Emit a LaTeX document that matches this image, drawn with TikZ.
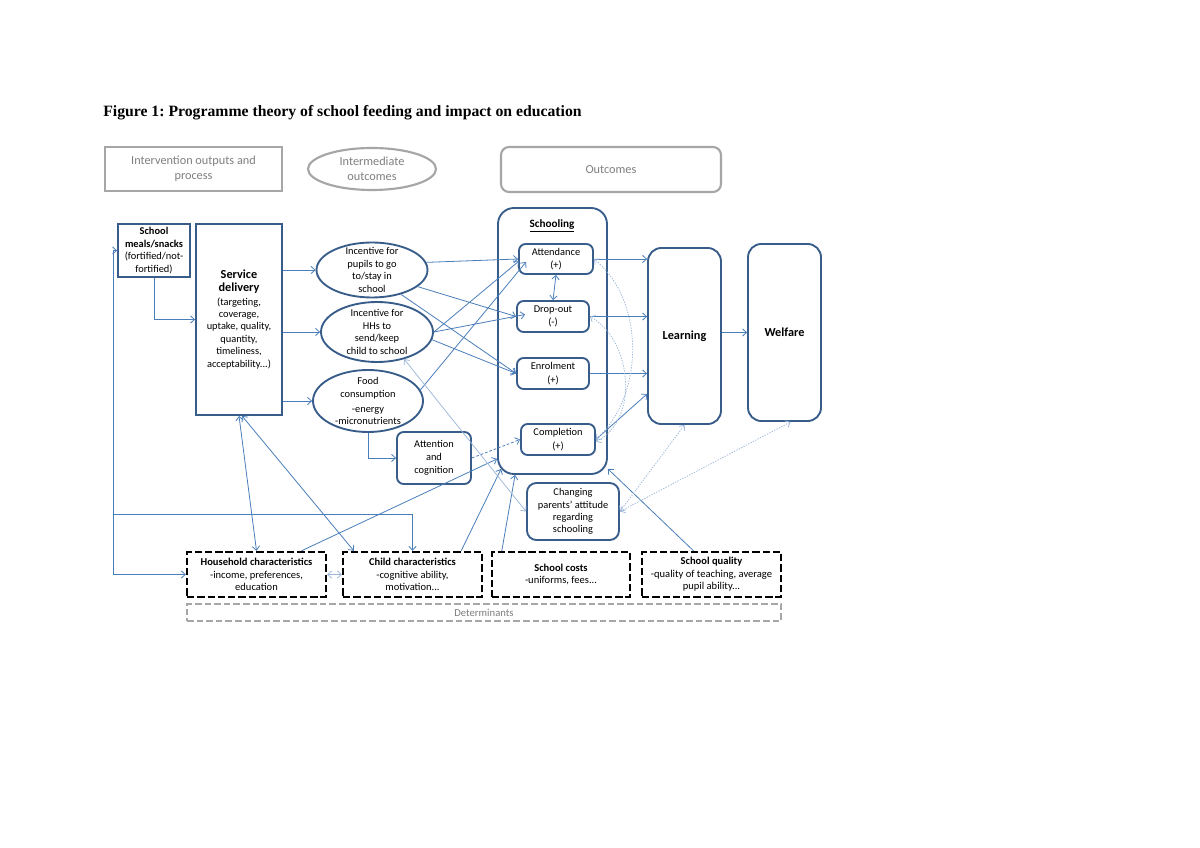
\documentclass[tikz,border=0pt]{standalone}
\usepackage{fontspec}
\setmainfont{Carlito}
\newfontfamily\titlefont{Liberation Serif}
\usetikzlibrary{arrows.meta,shapes.geometric,calc}
\frenchspacing
\definecolor{nodeb}{HTML}{385D8A}
\definecolor{lineb}{HTML}{4A7EBB}
\definecolor{lightb}{HTML}{9BB7DA}
\definecolor{hgray}{HTML}{A6A6A6}
\definecolor{htext}{HTML}{7F7F7F}
\newcommand\bigb{\fontsize{9.2}{11.2}\selectfont\bfseries}
\tikzset{
  >={Straight Barb[length=3pt,width=5.5pt]},
  sz/.style 2 args={minimum width={#1*0.75pt}, minimum height={#2*0.75pt}},
  base/.style={inner sep=0pt, align=center, font=\fontsize{7.8}{9.3}\selectfont},
  mainbox/.style={base, draw=nodeb, line width=1.4pt},
  rbox/.style={mainbox, rounded corners=5pt},
  oval/.style={inner sep=0pt, ellipse, draw=nodeb, line width=1.4pt},
  detbox/.style={base, draw=black, line width=1.8pt, dash pattern=on 5.5pt off 2.2pt, font=\fontsize{7.9}{9.4}\selectfont},
  hdr/.style={inner sep=0pt, align=center, draw=hgray, line width=1.6pt, text=htext, font=\fontsize{9.2}{11}\selectfont},
  hdrtext/.style={inner sep=0pt, align=center, text=htext, font=\fontsize{9.2}{11}\selectfont},
  conn/.style={draw=lineb, line width=0.6pt, ->},
  lconn/.style={draw=lightb, line width=0.55pt, <->},
  dconn/.style={lconn, dash pattern=on 1pt off 1pt},
}
\begin{document}
\begin{tikzpicture}[x=0.75pt, y=-0.75pt]
\fill[white] (0,0) rectangle (1200,848);
\useasboundingbox (0,0) rectangle (1200,848);

% title
\node[anchor=base west, inner sep=0pt, font=\titlefont\fontsize{11.8}{14}\selectfont\bfseries] (title) at (103,117)
  {Figure 1: Programme theory of school feeding and impact on education};

% header row
\node[hdr, sz={177}{44}] (hint) at (193.5,169) {Intervention outputs and\\process};
\node[hdr, ellipse, sz={128}{42}] (hmid) at (372,169) {};
\node[hdrtext] (hmidt) at (hmid) {Intermediate\\outcomes};
\node[hdr, rounded corners=6pt, sz={220}{45}] (hout) at (611,169.5) {Outcomes};

% intervention column
\node[mainbox, sz={72}{53}] (meals) at (154,250.5) {\textbf{School}\\\textbf{meals/snacks}\\(fortified/not-\\fortified)};
\node[mainbox, sz={86}{191}] (service) at (239,319.5)
  {{\bigb Service}\\{\bigb delivery}\\[1pt](targeting,\\coverage,\\uptake, quality,\\quantity,\\timeliness,\\acceptability...)};

% intermediate outcomes
\node[oval, sz={111}{55}] (e1) at (372,270) {};
\node[base] (e1t) at (e1) {Incentive for\\pupils to go\\to/stay in\\school};
\node[oval, sz={112}{60}] (e2) at (377,332) {};
\node[base] (e2t) at (e2) {Incentive for\\HHs to\\send/keep\\child to school};
\node[oval, sz={110}{62}] (e3) at (368,401) {};
\node[base] (e3t) at (e3) {Food\\consumption\\[2pt]-energy\\-micronutrients};
\node[rbox, sz={74}{52}] (att) at (434,458) {Attention\\[0.5pt]and\\[0.5pt]cognition};

% schooling
\node[mainbox, rounded corners=12pt, sz={109}{266}] (school) at (552.5,341) {};
\node[base, font=\fontsize{8.4}{10}\selectfont\bfseries] (schtitle) at (552,226) {\underline{Schooling}};
\node[rbox, sz={74}{30}] (attend) at (556,259) {Attendance\\[1pt](+)};
\node[rbox, sz={72}{31}] (drop) at (553,316.5) {Drop-out\\[1pt](-)};
\node[rbox, sz={72}{31}] (enrol) at (553,373.5) {Enrolment\\[1pt](+)};
\node[rbox, sz={74}{31}] (compl) at (558,439.5) {Completion\\[1pt](+)};

% final outcomes
\node[mainbox, rounded corners=10pt, sz={73}{176}, font=\bigb] (learning) at (684.5,336) {Learning};
\node[mainbox, rounded corners=10pt, sz={73}{177}, font=\bigb] (welfare) at (784.5,332.5) {Welfare};
\node[rbox, rounded corners=7pt, sz={92}{57}] (change) at (573,511.5) {Changing\\parents’ attitude\\regarding\\schooling};

% determinants
\node[detbox, sz={139}{45}] (hh) at (256.5,574.5) {\textbf{Household characteristics}\\-income, preferences,\\education};
\node[detbox, sz={139}{45}] (child) at (412.5,574.5) {\textbf{Child characteristics}\\-cognitive ability,\\motivation...};
\node[detbox, sz={138}{45}] (costs) at (561,574.5) {\textbf{School costs}\\-uniforms, fees...};
\node[detbox, sz={139}{45}] (quality) at (711.5,574.5) {\textbf{School quality}\\-quality of teaching, average\\pupil ability...};
\node[base, draw=hgray, line width=1.1pt, dash pattern=on 5pt off 2.2pt, sz={594}{17}, text=htext, font=\fontsize{8}{9.5}\selectfont] (det) at (484,612.5) {Determinants};

% feedback line on the left
\coordinate (fbj) at (113,514);
\draw[conn] (fbj) |- (meals.west);
\draw[conn] (fbj) |- (hh.west);
\draw[conn] (fbj) -| (child.north);

% intervention -> intermediate
\draw[conn] (meals.south) |- (service.west);
\draw[conn] (service.east |- e1.west) -- (e1.west);
\draw[conn] (service.east |- e2.west) -- (e2.west);
\draw[conn] (service.east |- e3.west) -- (e3.west);
\draw[conn] (e3.south) |- (att.west);

% intermediate -> schooling
\draw[conn] (e1.8) -- (attend.west);
\draw[conn] (e1.-20) -- (drop.west);
\draw[conn] (e1.-40) -- (enrol.west);
\draw[conn] (e2.east) -- ($(attend.west)+(1,2)$);
\draw[conn] (e2.east) -- ($(drop.west)+(9,-2)$);
\draw[conn] (e2.-8) -- (enrol.west);
\draw[conn] (e3.12) -- ($(attend.west)+(8,3)$);
\draw[conn, dash pattern=on 2pt off 1.5pt] (att.east) -- (compl.west);

% determinants -> schooling
\draw[conn] ($(hh.north)+(45,0)$) -- ($(school.south west)+(0,-16)$);
\draw[conn] ($(child.north east)+(-22,0)$) -- ($(school.south west)+(4,-6)$);
\draw[conn] ($(costs.north west)+(11,0)$) -- ($(school.south west)+(18,0)$);
\draw[conn] ($(quality.north)+(-18,0)$) -- ($(school.south east)+(0,-6)$);

% service <-> determinants
\draw[conn, <->] (service.south) -- (hh.north);
\draw[conn, <->] ($(service.south)+(3,0)$) -- ($(child.north west)+(12,0)$);
\draw[lconn] (hh.east) -- (child.west);

% attitude links
\draw[lconn] (e2.-45) -- (change.west);
\draw[dconn] (change.east) -- (learning.south);
\draw[dconn] (change.east) -- ($(welfare.south)+(6,0)$);

% schooling -> learning -> welfare
\draw[conn, <->] (attend.south) -- (drop.north);
\draw[conn] (attend.east) -- (learning.west |- attend.east);
\draw[conn] (drop.east) -- (learning.west |- drop.east);
\draw[conn] (enrol.east) -- (learning.west |- enrol.east);
\draw[conn] (compl.east) -- ($(learning.south west)+(0,-31)$);
\draw[conn] (learning.east |- welfare.west) -- (welfare.west);
\draw[dconn] (compl.east) .. controls (645,395) and (645,300) .. (attend.east);
\draw[dconn] ($(compl.east)+(0,2)$) .. controls (640,420) and (632,340) .. (drop.east);
\end{tikzpicture}
\end{document}
